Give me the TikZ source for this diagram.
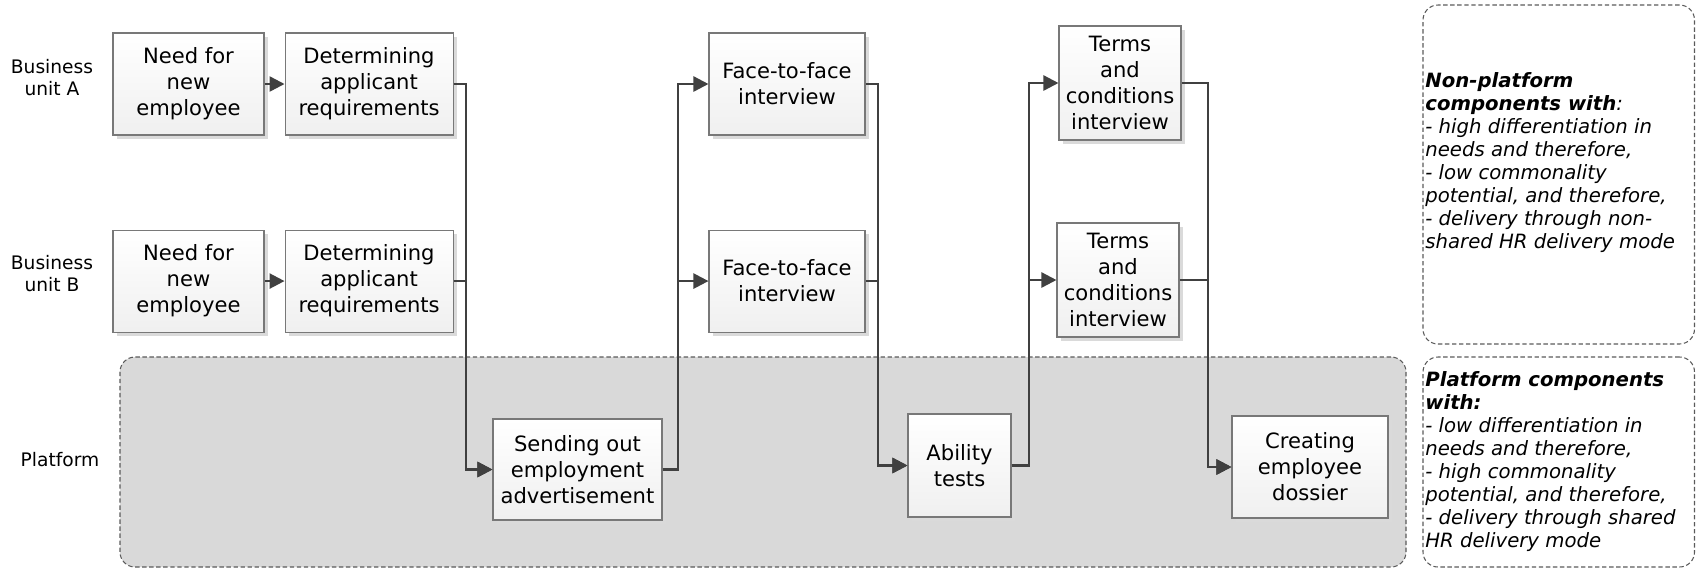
\documentclass[tikz,border=0pt]{standalone}
\usepackage{fontspec}
\setmainfont{DejaVu Sans}
\usetikzlibrary{positioning,arrows.meta,shadows}
\definecolor{LinkGrey}{RGB}{64,64,64}
\definecolor{EdgeGrey}{RGB}{120,120,120}
\definecolor{ZoneGrey}{RGB}{217,217,217}
\definecolor{DashGrey}{RGB}{90,90,90}
\definecolor{ShadowGrey}{RGB}{218,218,218}
\newcommand{\stepfont}{\fontsize{12}{14.8}\selectfont}
\newcommand{\lanefont}{\fontsize{10.6}{12.5}\selectfont}
\newcommand{\notefont}{\fontsize{11.2}{13.1}\selectfont\itshape}
\tikzset{
  flow/.style={-{Triangle[length=0.3cm,width=0.3cm]},line width=1.4pt,draw=LinkGrey},
  stepbox/.style={draw=EdgeGrey,line width=0.6pt,top color=white,bottom color=black!6,
    minimum height=2.04cm,inner sep=2pt,align=center,font=\stepfont,
    drop shadow={shadow xshift=0.07cm,shadow yshift=-0.07cm,fill=ShadowGrey,opacity=1}},
  zone/.style={draw=DashGrey,line width=0.6pt,dash pattern=on 2.5pt off 1.5pt,
    rounded corners=0.3cm,inner sep=0pt},
  lane/.style={align=center,font=\lanefont,inner sep=0pt},
  notetext/.style={align=left,font=\notefont,inner sep=0pt,anchor=west}
}
\begin{document}
\begin{tikzpicture}[node distance=0.4cm]
  \useasboundingbox (0,0) rectangle (33.92,-11.36);

  % shared platform area and the two side notes
  \node[zone,fill=ZoneGrey,minimum width=25.72cm,minimum height=4.2cm] (platzone) at (15.26,-9.24) {};
  \node[zone,minimum width=5.43cm,minimum height=6.78cm] (nonnote) at (31.175,-3.49) {};
  \node[zone,minimum width=5.43cm,minimum height=4.2cm] (platnote) at (31.175,-9.24) {};
  \node[notetext] (nontext) at (28.5,-3.25) {\textbf{Non-platform}\\\textbf{components with}:\\
    - high differentiation in\\needs and therefore,\\- low commonality\\potential, and therefore,\\
    - delivery through non-\\shared HR delivery mode};
  \node[notetext] (plattext) at (28.5,-9.23) {\textbf{Platform components}\\\textbf{with:}\\
    - low differentiation in\\needs and therefore,\\- high commonality\\potential, and therefore,\\
    - delivery through shared\\HR delivery mode};

  % lane labels
  \node[lane] (laneA) at (1.04,-1.55) {Business\\unit A};
  \node[lane] (laneB) at (1.04,-5.48) {Business\\unit B};
  \node[lane] (laneP) at (1.2,-9.2) {Platform};

  % business unit rows
  \node[stepbox,minimum width=3.02cm] (needA) at (3.77,-1.68) {Need for\\new\\employee};
  \node[stepbox,right=of needA,minimum width=3.36cm] (detA) {Determining\\applicant\\requirements};
  \node[stepbox,minimum width=3.12cm] (faceA) at (15.74,-1.68) {Face-to-face\\interview};
  \node[stepbox,minimum width=2.44cm,minimum height=2.28cm] (termsA) at (22.4,-1.66) {Terms\\and\\conditions\\interview};

  \node[stepbox,below=1.88cm of needA,minimum width=3.02cm] (needB) {Need for\\new\\employee};
  \node[stepbox,below=1.88cm of detA,minimum width=3.36cm] (detB) {Determining\\applicant\\requirements};
  \node[stepbox,below=1.88cm of faceA,minimum width=3.12cm] (faceB) {Face-to-face\\interview};
  \node[stepbox,minimum width=2.44cm,minimum height=2.28cm] (termsB) at (22.36,-5.6) {Terms\\and\\conditions\\interview};

  % platform row
  \node[stepbox,minimum width=3.38cm,minimum height=2.02cm] (send) at (11.55,-9.39) {Sending out\\employment\\advertisement};
  \node[stepbox,minimum width=2.06cm,minimum height=2.06cm] (ability) at (19.19,-9.31) {Ability\\tests};
  \node[stepbox,minimum width=3.12cm] (create) at (26.2,-9.34) {Creating\\employee\\dossier};

  % vertical bus lines
  \coordinate (busA) at (9.32,0);
  \coordinate (busB) at (13.56,0);
  \coordinate (busC) at (17.56,0);
  \coordinate (busD) at (20.58,0);
  \coordinate (busE) at (24.16,0);

  \draw[flow] (needA) -- (detA);
  \draw[flow] (needB) -- (detB);
  \foreach \src in {detA,detB}
    \draw[flow] (\src.east) -- (\src.east -| busA) |- (send.west);
  \foreach \dst in {faceA,faceB}
    \draw[flow] (send.east) -- (send.east -| busB) |- (\dst.west);
  \foreach \src in {faceA,faceB}
    \draw[flow] (\src.east) -- (\src.east -| busC) |- (ability.west);
  \foreach \dst in {termsA,termsB}
    \draw[flow] (ability.east) -- (ability.east -| busD) |- (\dst.west);
  \foreach \src in {termsA,termsB}
    \draw[flow] (\src.east) -- (\src.east -| busE) |- (create.west);
\end{tikzpicture}
\end{document}
